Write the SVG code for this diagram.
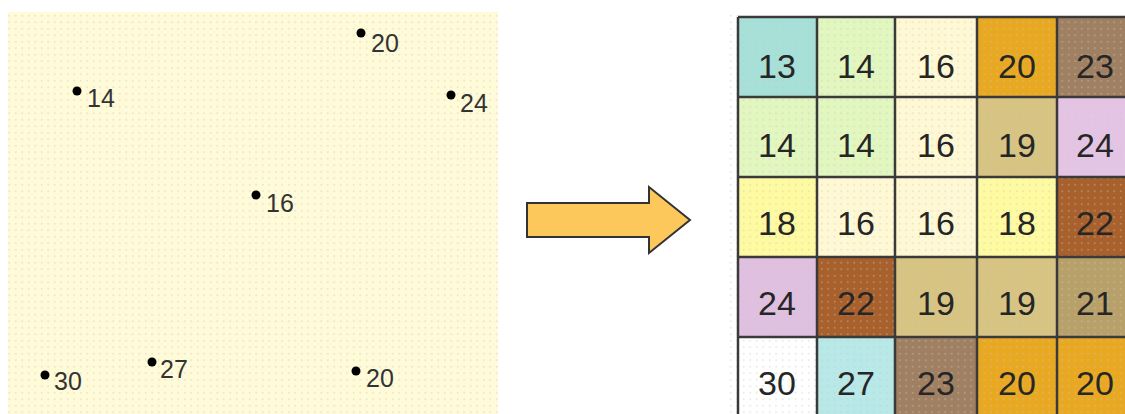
<svg xmlns="http://www.w3.org/2000/svg" width="1125" height="414" viewBox="0 0 1125 414">
<style>
.pt{fill:#000}
.pl{font-family:"Liberation Sans",Arial,sans-serif;font-size:25px;fill:#333}
.cl{font-family:"Liberation Sans",Arial,sans-serif;font-size:34px;fill:#262626;text-anchor:middle}
.gl{stroke:#3a3a3a;stroke-width:2.5;fill:none}
</style>
<defs>
<pattern id="dots" x="0" y="0" width="6.5" height="6.5" patternUnits="userSpaceOnUse">
<rect x="2" y="2" width="1.4" height="1.4" fill="#c8c8b8" opacity="0.6"/>
</pattern>
</defs>
<rect width="1125" height="414" fill="#fff"/>
<g id="point-panel">
<rect x="8" y="12" width="490" height="402" fill="#fffbd8"/>
<rect x="8" y="12" width="490" height="402" fill="url(#dots)"/>
</g>
<g id="p1"><circle class="pt" cx="361" cy="33" r="4.5"/><text class="pl" x="371" y="52">20</text></g>
<g id="p2"><circle class="pt" cx="77" cy="91" r="4.5"/><text class="pl" x="87" y="107">14</text></g>
<g id="p3"><circle class="pt" cx="451" cy="95" r="4.5"/><text class="pl" x="460" y="112">24</text></g>
<g id="p4"><circle class="pt" cx="256" cy="195" r="4.5"/><text class="pl" x="266" y="212">16</text></g>
<g id="p5"><circle class="pt" cx="45" cy="375" r="4.5"/><text class="pl" x="54" y="390">30</text></g>
<g id="p6"><circle class="pt" cx="152" cy="362" r="4.5"/><text class="pl" x="160" y="378">27</text></g>
<g id="p7"><circle class="pt" cx="356" cy="371" r="4.5"/><text class="pl" x="366" y="387">20</text></g>
<g id="arrow">
<polygon points="527,203 649,203 649,187 690,220 649,253 649,237 527,237" fill="#fcc85c" stroke="#333" stroke-width="2" stroke-linejoin="miter"/>
</g>
<g id="raster">
<rect x="726" y="12" width="12" height="402" fill="url(#dots)"/>
<rect x="738" y="17" width="79" height="80" fill="#a6e0d8"/>
<rect x="817" y="17" width="78" height="80" fill="#e2f6c0"/>
<rect x="895" y="17" width="82" height="80" fill="#fff8d4"/>
<rect x="977" y="17" width="80" height="80" fill="#e8a822"/>
<rect x="1057" y="17" width="68" height="80" fill="#a08062"/>
<rect x="738" y="97" width="79" height="80" fill="#e2f6c0"/>
<rect x="817" y="97" width="78" height="80" fill="#e2f6c0"/>
<rect x="895" y="97" width="82" height="80" fill="#fff8d4"/>
<rect x="977" y="97" width="80" height="80" fill="#d8c482"/>
<rect x="1057" y="97" width="68" height="80" fill="#e4c4e4"/>
<rect x="738" y="177" width="79" height="80" fill="#fdfaa2"/>
<rect x="817" y="177" width="78" height="80" fill="#fff8d4"/>
<rect x="895" y="177" width="82" height="80" fill="#fff8d4"/>
<rect x="977" y="177" width="80" height="80" fill="#fdfaa2"/>
<rect x="1057" y="177" width="68" height="80" fill="#a8602c"/>
<rect x="738" y="257" width="79" height="80" fill="#e0c0e0"/>
<rect x="817" y="257" width="78" height="80" fill="#a8602c"/>
<rect x="895" y="257" width="82" height="80" fill="#d8c482"/>
<rect x="977" y="257" width="80" height="80" fill="#d8c482"/>
<rect x="1057" y="257" width="68" height="80" fill="#b8a06a"/>
<rect x="738" y="337" width="79" height="77" fill="#ffffff"/>
<rect x="817" y="337" width="78" height="77" fill="#b8e8e8"/>
<rect x="895" y="337" width="82" height="77" fill="#a08062"/>
<rect x="977" y="337" width="80" height="77" fill="#e8a822"/>
<rect x="1057" y="337" width="68" height="77" fill="#e8a822"/>
<rect x="738" y="17" width="387" height="397" fill="url(#dots)"/>
<path class="gl" d="M738,17 V414 M817,17 V414 M895,17 V414 M977,17 V414 M1057,17 V414 M738,17 H1125 M738,97 H1125 M738,177 H1125 M738,257 H1125 M738,337 H1125"/>
<g>
<text class="cl" x="777" y="78">13</text><text class="cl" x="856" y="78">14</text><text class="cl" x="936" y="78">16</text><text class="cl" x="1017" y="78">20</text><text class="cl" x="1095" y="78">23</text>
<text class="cl" x="777" y="157">14</text><text class="cl" x="856" y="157">14</text><text class="cl" x="936" y="157">16</text><text class="cl" x="1017" y="157">19</text><text class="cl" x="1095" y="157">24</text>
<text class="cl" x="777" y="235">18</text><text class="cl" x="856" y="235">16</text><text class="cl" x="936" y="235">16</text><text class="cl" x="1017" y="235">18</text><text class="cl" x="1095" y="235">22</text>
<text class="cl" x="777" y="315">24</text><text class="cl" x="856" y="315">22</text><text class="cl" x="936" y="315">19</text><text class="cl" x="1017" y="315">19</text><text class="cl" x="1095" y="315">21</text>
<text class="cl" x="777" y="395">30</text><text class="cl" x="856" y="395">27</text><text class="cl" x="936" y="395">23</text><text class="cl" x="1017" y="395">20</text><text class="cl" x="1095" y="395">20</text>
</g>
</g>
</svg>
